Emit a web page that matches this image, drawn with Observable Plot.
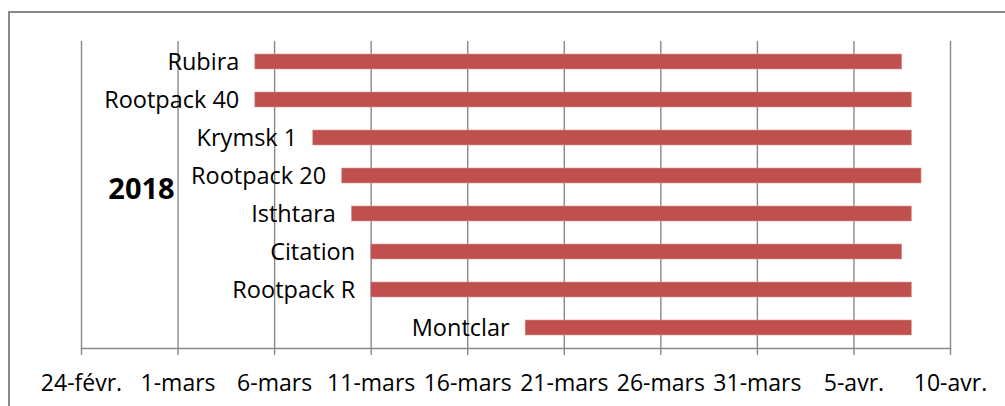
<!DOCTYPE html>
<html>
<head>
<meta charset="utf-8">
<script src="https://cdn.jsdelivr.net/npm/d3@7"></script>
<script src="https://cdn.jsdelivr.net/npm/@observablehq/plot@0.6"></script>
<style>
  html, body { margin: 0; padding: 0; background: #fff; }
  #wrap { position: relative; width: 1005px; height: 406px; overflow: hidden; }
  #border { position: absolute; left: 8px; top: 11px; width: 1100px; height: 500px;
            border-left: 2px solid #8a8a8a; border-top: 2px solid #8a8a8a; }
  #chart { position: absolute; left: 0; top: 0; }
</style>
</head>
<body>
<div id="wrap"><div id="border"></div><div id="chart"></div></div>
<script>
const categories = ["Rubira", "Rootpack 40", "Krymsk 1", "Rootpack 20", "Isthtara", "Citation", "Rootpack R", "Montclar"];
const starts = ["2018-03-05", "2018-03-05", "2018-03-08", "2018-03-09T12:00", "2018-03-10", "2018-03-11", "2018-03-11", "2018-03-19"];
const ends = ["2018-04-07T12:00", "2018-04-08", "2018-04-08", "2018-04-08T12:00", "2018-04-08", "2018-04-07T12:00", "2018-04-08", "2018-04-08"];
const tickDates = ["2018-02-24", "2018-03-01", "2018-03-06", "2018-03-11", "2018-03-16", "2018-03-21", "2018-03-26", "2018-03-31", "2018-04-05", "2018-04-10"];
const tickLabels = ["24-févr.", "1-mars", "6-mars", "11-mars", "16-mars", "21-mars", "26-mars", "31-mars", "5-avr.", "10-avr."];
const groupLabel = ["2018"];

const parse = s => new Date(s + (s.includes("T") ? "Z" : "T00:00Z"));
const data = categories.map((name, i) => ({name, start: parse(starts[i]), end: parse(ends[i])}));
const ticks = tickDates.map(parse);
const labelMap = new Map(ticks.map((t, i) => [+t, tickLabels[i]]));

const chart = Plot.plot({
  width: 1005,
  height: 406,
  marginLeft: 81,
  marginRight: 55,
  marginTop: 41,
  marginBottom: 58,
  style: {fontFamily: "'Open Sans', sans-serif", fontSize: "22px", color: "#000", background: "transparent"},
  x: {type: "utc", domain: [ticks[0], ticks[ticks.length - 1]]},
  y: {domain: categories, paddingInner: 0.61, paddingOuter: 0.305, axis: null},
  marks: [
    Plot.gridX(ticks, {stroke: "#888", strokeOpacity: 1, strokeWidth: 1.4}),
    Plot.frame({anchor: "bottom", stroke: "#888", strokeWidth: 1.4}),
    Plot.axisX(ticks, {tickSize: 7, tickPadding: 19, stroke: "#888", strokeWidth: 1.4,
      tickFormat: d => labelMap.get(+d), fontSize: 23, fill: "#000"}),
    Plot.barX(data, {x1: "start", x2: "end", y: "name", fill: "#C0504D", stroke: "#d89a98", strokeWidth: 0.6}),
    Plot.text(data, {x: "start", y: "name", text: "name", textAnchor: "end", dx: -16, fontSize: 23.5, fill: "#000"}),
    Plot.text(groupLabel, {frameAnchor: "left", text: d => d, textAnchor: "middle", dx: 60, dy: -5, fontWeight: "bold", fontSize: 29, fill: "#000"})
  ]
});
document.getElementById("chart").appendChild(chart);
</script>
</body>
</html>
